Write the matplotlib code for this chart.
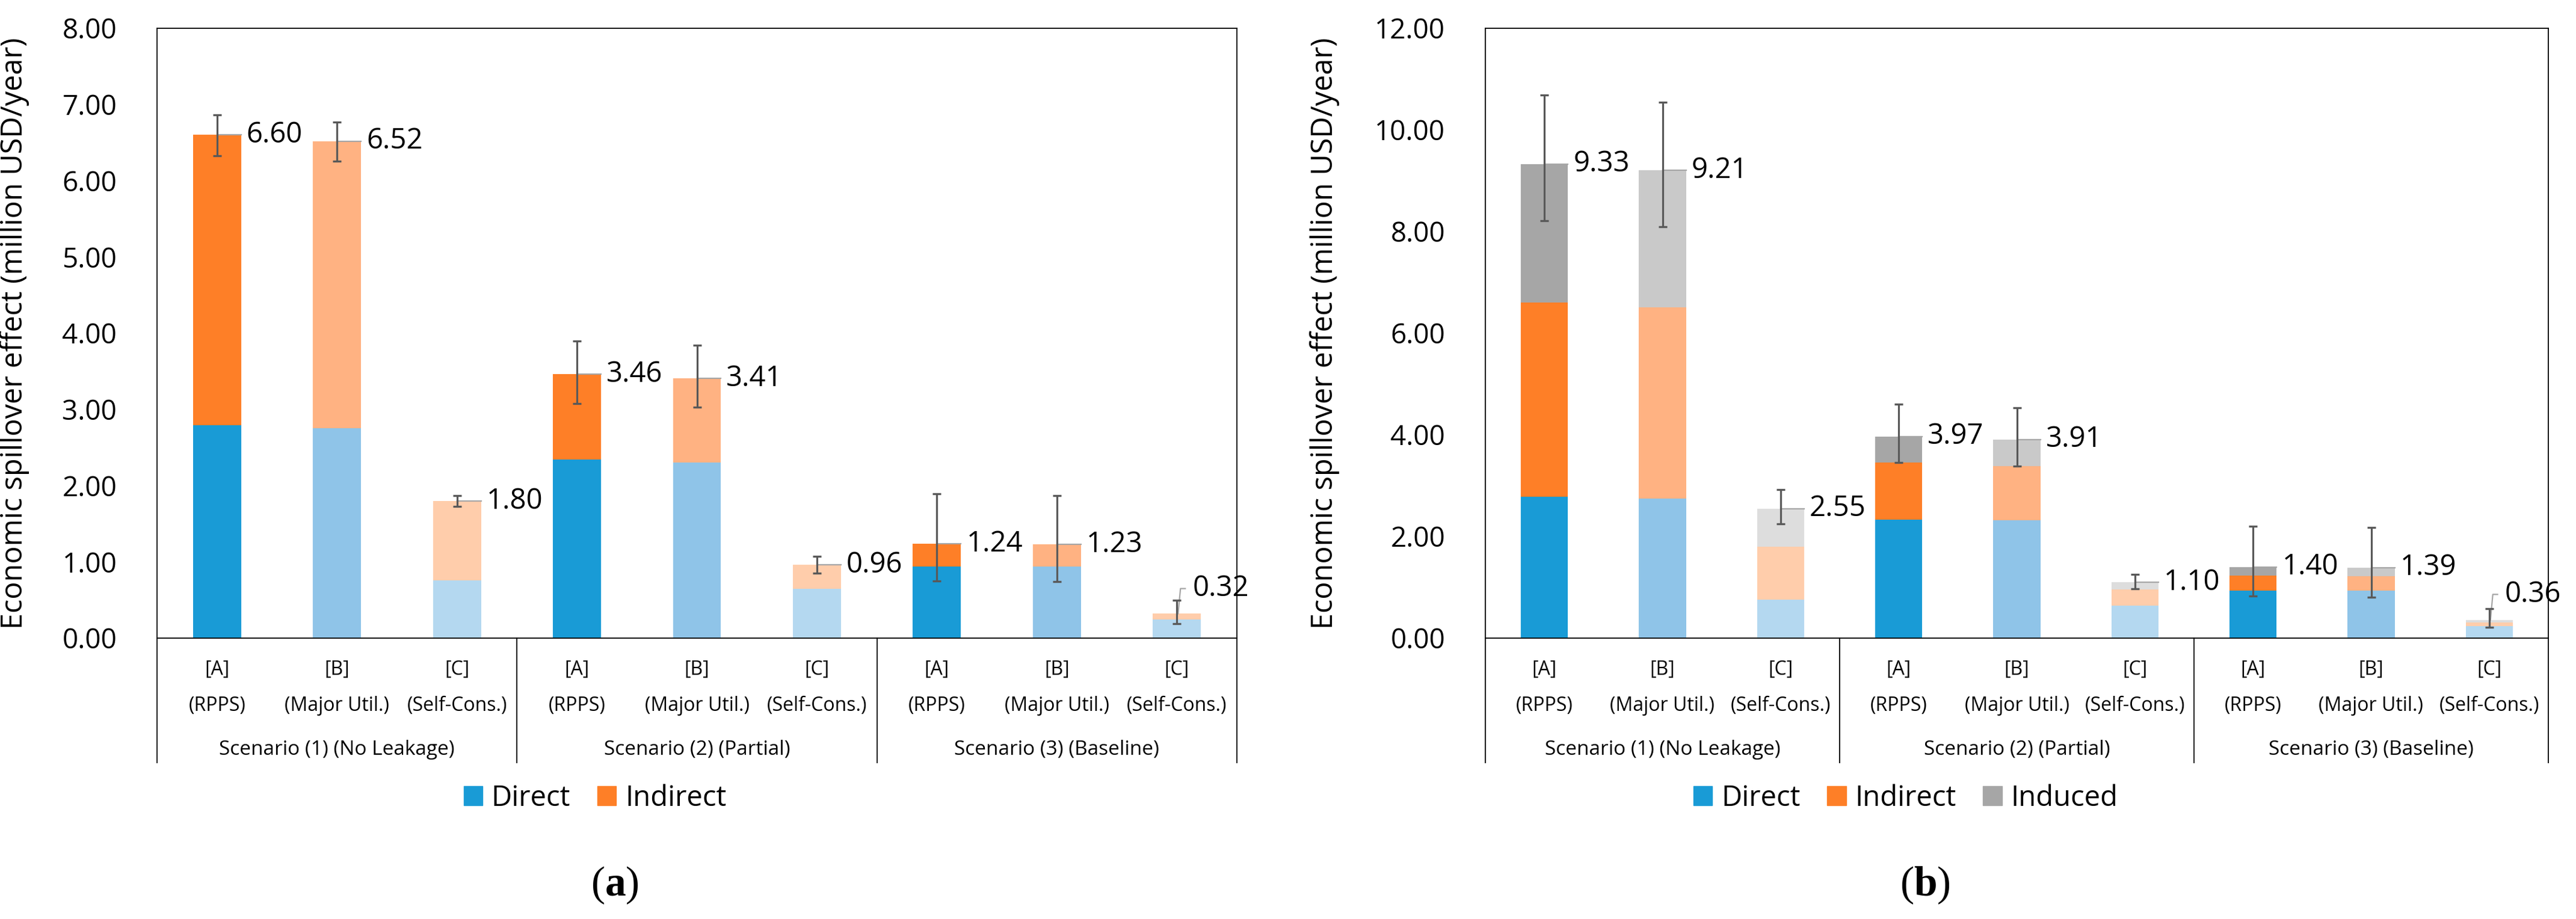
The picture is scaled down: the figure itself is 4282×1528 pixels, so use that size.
import matplotlib
matplotlib.use('Agg')
import matplotlib.pyplot as plt
from matplotlib.patches import Patch
import numpy as np

plt.rcParams['font.family'] = ['Open Sans', 'DejaVu Sans']
plt.rcParams['mathtext.fontset'] = 'custom'
plt.rcParams['mathtext.rm'] = 'Liberation Serif'
plt.rcParams['mathtext.bf'] = 'Liberation Serif:bold'

# categories
cat_top = ['[A]', '[B]', '[C]'] * 3
cat_bottom = ['(RPPS)', '(Major Util.)', '(Self-Cons.)'] * 3
scenarios = ['Scenario (1) (No Leakage)', 'Scenario (2) (Partial)', 'Scenario (3) (Baseline)']

# panel (a): direct + indirect
direct_a = [2.79, 2.75, 0.76, 2.34, 2.30, 0.65, 0.94, 0.94, 0.245]
indirect_a = [3.81, 3.77, 1.04, 1.12, 1.11, 0.31, 0.30, 0.29, 0.075]
total_a = [6.60, 6.52, 1.80, 3.46, 3.41, 0.96, 1.24, 1.23, 0.32]
err_hi_a = [6.86, 6.77, 1.87, 3.90, 3.84, 1.075, 1.89, 1.87, 0.50]
err_lo_a = [6.33, 6.26, 1.73, 3.08, 3.03, 0.85, 0.75, 0.74, 0.19]

# panel (b): direct + indirect + induced
direct_b = [2.78, 2.74, 0.76, 2.33, 2.32, 0.64, 0.93, 0.93, 0.24]
indirect_b = [3.82, 3.77, 1.04, 1.12, 1.07, 0.32, 0.30, 0.29, 0.07]
induced_b = [2.73, 2.70, 0.75, 0.52, 0.52, 0.14, 0.17, 0.17, 0.05]
total_b = [9.33, 9.21, 2.55, 3.97, 3.91, 1.10, 1.40, 1.39, 0.36]
err_hi_b = [10.69, 10.55, 2.92, 4.60, 4.53, 1.26, 2.20, 2.18, 0.58]
err_lo_b = [8.21, 8.10, 2.25, 3.45, 3.38, 0.97, 0.83, 0.81, 0.21]

# shades: [A] dark, [B] medium, [C] light
c_direct = ['#199bd6', '#8fc4e8', '#b4d8f0']
c_indirect = ['#fe7f27', '#ffb282', '#ffcdab']
c_induced = ['#a6a6a6', '#c9c9c9', '#dddddd']

W, H = 4282, 1528
fig = plt.figure(figsize=(W / 100, H / 100), dpi=100)


def draw_panel(ax, layers, colors, totals, lo, hi, ymax, ystep, last_label_y):
    x = np.arange(len(totals))
    bottom = np.zeros(len(totals))
    for vals, cols in zip(layers, colors):
        ax.bar(x, vals, width=0.4, bottom=bottom,
               color=[cols[i % 3] for i in x], edgecolor='none', zorder=2)
        bottom = bottom + np.array(vals)
    tot = np.array(totals)
    yerr = [tot - np.array(lo), np.array(hi) - tot]
    ax.errorbar(x, tot, yerr=yerr, fmt='none', ecolor='#595959',
                elinewidth=2.3, capsize=4.7, capthick=2.4, zorder=4)
    for i, t in enumerate(totals):
        if i == len(totals) - 1:
            lx, ly = i + 0.13, last_label_y
            ax.plot([i + 0.01, i + 0.03, lx - 0.06], [t, ly, ly],
                    color='#a6a6a6', lw=1.6, zorder=3)
        else:
            lx, ly = i + 0.245, t
            ax.plot([i, i + 0.2], [t, t], color='#a6a6a6', lw=1.6, zorder=3)
        ax.text(lx, ly, f'{t:.2f}', fontsize=34, va='center', ha='left', zorder=5)

    ax.set_xlim(-0.5, len(totals) - 0.5)
    ax.set_ylim(0, ymax)
    ax.set_yticks(np.arange(0, ymax + 0.01, ystep))
    ax.yaxis.set_major_formatter(matplotlib.ticker.FormatStrFormatter('%.2f'))
    ax.tick_params(axis='y', length=0, pad=48, labelsize=33)
    ax.set_xticks([])
    for s in ax.spines.values():
        s.set_linewidth(1.3)
    ax.set_ylabel('Economic spillover effect (million USD/year)', fontsize=35)

    tr = ax.get_xaxis_transform()
    for i in x:
        ax.text(i, -0.0513, cat_top[i], transform=tr, ha='center', va='center', fontsize=23)
        ax.text(i, -0.1105, cat_bottom[i], transform=tr, ha='center', va='center', fontsize=23)
    for k, name in enumerate(scenarios):
        ax.text(3 * k + 1, -0.1834, name, transform=tr, ha='center', va='center', fontsize=24)
    for sx in [-0.5, 2.5, 5.5, 8.5]:
        ax.plot([sx, sx], [0, -0.204], transform=tr, color='black', lw=1.3, clip_on=False)


ax1 = fig.add_axes([261 / W, 1 - 1061 / H, 1795 / W, 1014 / H])
draw_panel(ax1, [direct_a, indirect_a], [c_direct, c_indirect],
           total_a, err_lo_a, err_hi_a, 8, 1, 0.65)
ax1.yaxis.set_label_coords(-0.118, 0.5)

ax2 = fig.add_axes([2469 / W, 1 - 1061 / H, 1767 / W, 1014 / H])
draw_panel(ax2, [direct_b, indirect_b, induced_b], [c_direct, c_indirect, c_induced],
           total_b, err_lo_b, err_hi_b, 12, 2, 0.86)
ax2.yaxis.set_label_coords(-0.137, 0.5)

leg_kw = dict(loc='center', ncol=3, frameon=False, fontsize=34,
              handlelength=0.66, handleheight=0.66, handletextpad=0.32,
              columnspacing=0.94)
fig.legend(handles=[Patch(color=c_direct[0], label='Direct'),
                    Patch(color=c_indirect[0], label='Indirect')],
           bbox_to_anchor=(989 / W, 1 - 1327 / H), **leg_kw)
fig.legend(handles=[Patch(color=c_direct[0], label='Direct'),
                    Patch(color=c_indirect[0], label='Indirect'),
                    Patch(color=c_induced[0], label='Induced')],
           bbox_to_anchor=(3168 / W, 1 - 1327 / H), **leg_kw)

fig.text(1022 / W, 1 - 1472 / H, r'($\mathbf{a}$)', fontsize=50, ha='center', va='center',
         family='Liberation Serif')
fig.text(3200 / W, 1 - 1472 / H, r'($\mathbf{b}$)', fontsize=50, ha='center', va='center',
         family='Liberation Serif')

fig.savefig('out.png', dpi=100)
